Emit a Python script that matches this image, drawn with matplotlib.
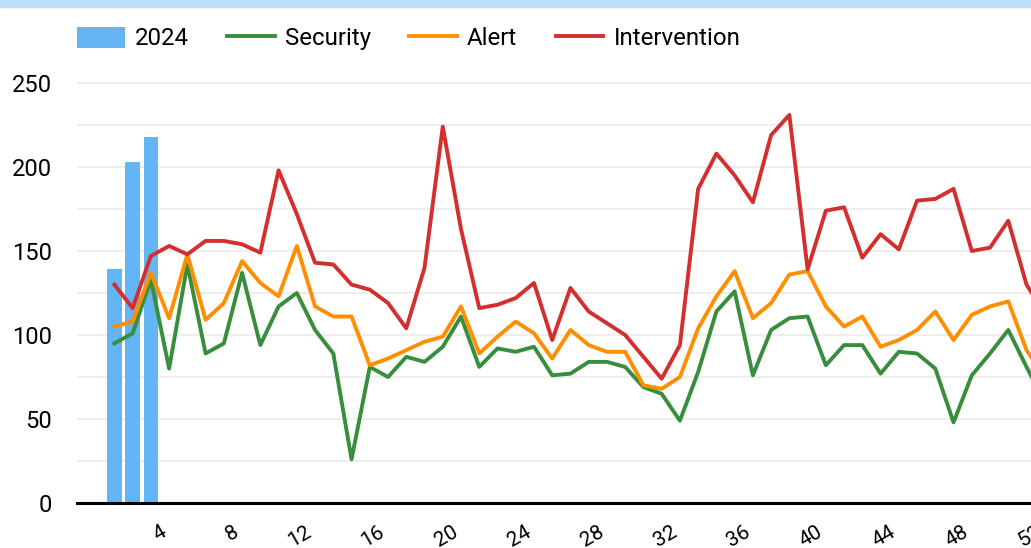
import matplotlib
matplotlib.use('Agg')
from matplotlib import pyplot as plt
from matplotlib.patches import Rectangle

plt.rcParams['font.family'] = ['Roboto', 'DejaVu Sans']

weeks = list(range(1, 53))
bar_weeks = [1, 2, 3]
bars_2024 = [139, 203, 218]
security = [95, 101, 133, 80, 142, 89, 95, 137, 94, 117, 125, 103, 89, 26, 81, 75, 87, 84, 93, 111,
            81, 92, 90, 93, 76, 77, 84, 84, 81, 69, 65, 49, 78, 114, 126, 76, 103, 110, 111, 82,
            94, 94, 77, 90, 89, 80, 48, 76, 89, 103, 81, 60]
alert = [105, 108, 137, 110, 148, 109, 119, 144, 131, 123, 153, 117, 111, 111, 82, 86, 91, 96, 99, 117,
         89, 99, 108, 101, 86, 103, 94, 90, 90, 70, 68, 75, 104, 123, 138, 110, 119, 136, 138, 117,
         105, 111, 93, 97, 103, 114, 97, 112, 117, 120, 91, 75]
intervention = [130, 116, 147, 153, 148, 156, 156, 154, 149, 198, 172, 143, 142, 130, 127, 119, 104, 140, 224, 163,
                116, 118, 122, 131, 97, 128, 114, 107, 100, 87, 74, 94, 187, 208, 195, 179, 219, 231, 139, 174,
                176, 146, 160, 151, 180, 181, 187, 150, 152, 168, 130, 113]
x_ticks = list(range(4, 53, 4))

W, H = 1031, 548
fig = plt.figure(figsize=(W / 100, H / 100), dpi=100)
# light blue strip along the top
fig.add_artist(Rectangle((0, 1 - 7 / H), 1, 7 / H, transform=fig.transFigure, color='#bbdefb', zorder=0))

# axes run past the right edge, like the cropped original
ax = fig.add_axes([77 / W, 45 / H, 986 / W, 436.8 / H])
ax.bar(bar_weeks, bars_2024, width=0.8, color='#64b5f6', label='2024', zorder=2)
ax.plot(weeks, security, color='#388e3c', lw=2.8, label='Security', zorder=3)
ax.plot(weeks, alert, color='#ff8f00', lw=2.8, label='Alert', zorder=3)
ax.plot(weeks, intervention, color='#d32f2f', lw=2.8, label='Intervention', zorder=3)

ax.set_xlim(-1.05, 53)
ax.set_ylim(0, 260)
ax.set_yticks(range(0, 251, 50))
ax.set_yticks(range(0, 251, 25), minor=True)
ax.grid(axis='y', which='both', color='#eeeeee', lw=1.5)
ax.set_axisbelow(True)
ax.set_xticks(x_ticks)
ax.set_xticklabels([str(t) for t in x_ticks], rotation=30, ha='right', fontsize=15)
ax.tick_params(axis='x', length=0, pad=14)
ax.tick_params(axis='y', which='both', length=0, pad=18, labelsize=17)
for s in ['top', 'right', 'left']:
    ax.spines[s].set_visible(False)
ax.spines['bottom'].set_color('black')
ax.spines['bottom'].set_linewidth(2.2)

# bar first in the legend
handles, labels = ax.get_legend_handles_labels()
order = [labels.index(n) for n in ['2024', 'Security', 'Alert', 'Intervention']]
fig.legend([handles[i] for i in order], [labels[i] for i in order],
           loc='center left', bbox_to_anchor=(77 / W, 1 - 38.5 / H), ncol=4, frameon=False, fontsize=17.3,
           handlelength=1.98, handleheight=1.0, handletextpad=0.42, columnspacing=1.6,
           borderpad=0, borderaxespad=0)

fig.savefig('out.png', dpi=100)
